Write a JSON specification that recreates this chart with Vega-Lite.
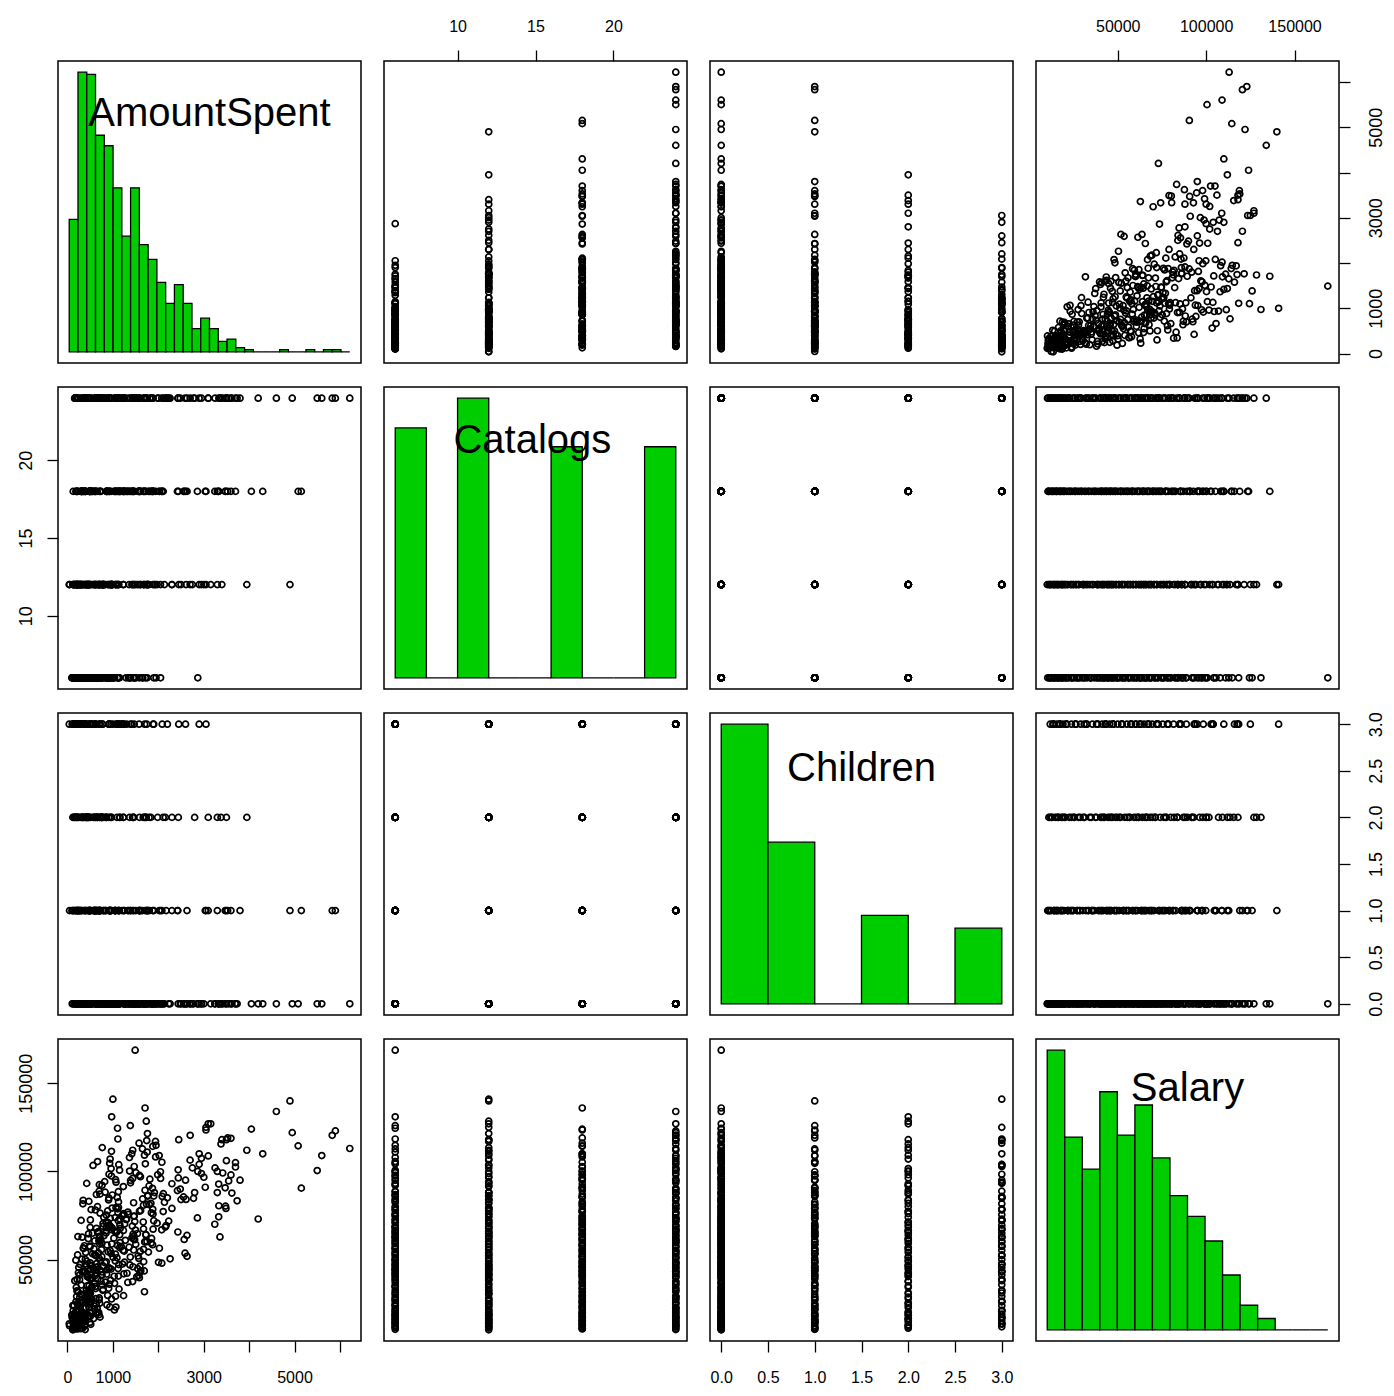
{
"$schema":"https://vega.github.io/schema/vega-lite/v6.json",
"background":"white",
"padding":{"left":16,"top":17,"right":5,"bottom":5},
"columns":4,
"spacing":{"row":24,"column":23},
"bounds":"flush",
"config":{
"view":{"stroke":"black","strokeWidth":1.5},
"point":{"shape":"circle","filled":false,"color":"black","size":36,"strokeWidth":1.7,"opacity":1},
"axis":{"grid":false,"domain":false,"tickSize":11,"tickColor":"black","tickWidth":1.3,"labelColor":"black","labelFont":"Liberation Sans","labelFlush":false,"labelOverlap":false,"labelBound":false}
},
"datasets":{
"dm":[
{"AmountSpent":115,"Catalogs":12,"Children":0,"Salary":10100},
{"AmountSpent":141,"Catalogs":6,"Children":1,"Salary":10400},
{"AmountSpent":295,"Catalogs":24,"Children":0,"Salary":10700},
{"AmountSpent":332,"Catalogs":18,"Children":2,"Salary":11000},
{"AmountSpent":152,"Catalogs":12,"Children":0,"Salary":11300},
{"AmountSpent":120,"Catalogs":6,"Children":1,"Salary":11500},
{"AmountSpent":202,"Catalogs":18,"Children":3,"Salary":11800},
{"AmountSpent":376,"Catalogs":24,"Children":0,"Salary":12100},
{"AmountSpent":45,"Catalogs":12,"Children":1,"Salary":12400},
{"AmountSpent":225,"Catalogs":6,"Children":0,"Salary":12700},
{"AmountSpent":160,"Catalogs":24,"Children":2,"Salary":12900},
{"AmountSpent":513,"Catalogs":18,"Children":0,"Salary":13200},
{"AmountSpent":38,"Catalogs":12,"Children":3,"Salary":13500},
{"AmountSpent":271,"Catalogs":6,"Children":0,"Salary":13800},
{"AmountSpent":225,"Catalogs":18,"Children":1,"Salary":14000},
{"AmountSpent":493,"Catalogs":24,"Children":0,"Salary":14300},
{"AmountSpent":237,"Catalogs":12,"Children":2,"Salary":14600},
{"AmountSpent":170,"Catalogs":6,"Children":0,"Salary":14900},
{"AmountSpent":181,"Catalogs":24,"Children":1,"Salary":15100},
{"AmountSpent":308,"Catalogs":18,"Children":3,"Salary":15400},
{"AmountSpent":179,"Catalogs":12,"Children":0,"Salary":15700},
{"AmountSpent":217,"Catalogs":6,"Children":1,"Salary":16000},
{"AmountSpent":388,"Catalogs":18,"Children":0,"Salary":16200},
{"AmountSpent":575,"Catalogs":24,"Children":2,"Salary":16500},
{"AmountSpent":226,"Catalogs":12,"Children":0,"Salary":16800},
{"AmountSpent":103,"Catalogs":6,"Children":3,"Salary":17100},
{"AmountSpent":716,"Catalogs":24,"Children":0,"Salary":17300},
{"AmountSpent":391,"Catalogs":18,"Children":1,"Salary":17600},
{"AmountSpent":156,"Catalogs":12,"Children":0,"Salary":17900},
{"AmountSpent":210,"Catalogs":6,"Children":2,"Salary":18200},
{"AmountSpent":303,"Catalogs":18,"Children":0,"Salary":18400},
{"AmountSpent":693,"Catalogs":24,"Children":1,"Salary":18700},
{"AmountSpent":150,"Catalogs":12,"Children":3,"Salary":19000},
{"AmountSpent":378,"Catalogs":6,"Children":0,"Salary":19300},
{"AmountSpent":315,"Catalogs":18,"Children":1,"Salary":19600},
{"AmountSpent":687,"Catalogs":24,"Children":0,"Salary":19900},
{"AmountSpent":327,"Catalogs":12,"Children":2,"Salary":20200},
{"AmountSpent":235,"Catalogs":6,"Children":0,"Salary":20600},
{"AmountSpent":126,"Catalogs":18,"Children":3,"Salary":21000},
{"AmountSpent":1033,"Catalogs":24,"Children":0,"Salary":21400},
{"AmountSpent":205,"Catalogs":12,"Children":1,"Salary":21800},
{"AmountSpent":365,"Catalogs":6,"Children":0,"Salary":22200},
{"AmountSpent":407,"Catalogs":24,"Children":2,"Salary":22600},
{"AmountSpent":1066,"Catalogs":18,"Children":0,"Salary":23000},
{"AmountSpent":260,"Catalogs":12,"Children":1,"Salary":23400},
{"AmountSpent":144,"Catalogs":6,"Children":3,"Salary":23800},
{"AmountSpent":868,"Catalogs":18,"Children":0,"Salary":24200},
{"AmountSpent":631,"Catalogs":24,"Children":1,"Salary":24600},
{"AmountSpent":217,"Catalogs":12,"Children":0,"Salary":25000},
{"AmountSpent":293,"Catalogs":6,"Children":2,"Salary":25400},
{"AmountSpent":490,"Catalogs":24,"Children":0,"Salary":25800},
{"AmountSpent":487,"Catalogs":18,"Children":3,"Salary":26200},
{"AmountSpent":440,"Catalogs":12,"Children":0,"Salary":26600},
{"AmountSpent":437,"Catalogs":6,"Children":1,"Salary":27000},
{"AmountSpent":533,"Catalogs":18,"Children":0,"Salary":27400},
{"AmountSpent":626,"Catalogs":24,"Children":2,"Salary":27800},
{"AmountSpent":700,"Catalogs":12,"Children":0,"Salary":28200},
{"AmountSpent":269,"Catalogs":6,"Children":1,"Salary":28600},
{"AmountSpent":201,"Catalogs":24,"Children":3,"Salary":29000},
{"AmountSpent":1235,"Catalogs":18,"Children":0,"Salary":29500},
{"AmountSpent":284,"Catalogs":12,"Children":1,"Salary":30200},
{"AmountSpent":505,"Catalogs":6,"Children":0,"Salary":30700},
{"AmountSpent":487,"Catalogs":18,"Children":2,"Salary":31200},
{"AmountSpent":1695,"Catalogs":24,"Children":0,"Salary":31700},
{"AmountSpent":207,"Catalogs":12,"Children":3,"Salary":32200},
{"AmountSpent":414,"Catalogs":6,"Children":0,"Salary":32700},
{"AmountSpent":1135,"Catalogs":24,"Children":1,"Salary":33200},
{"AmountSpent":907,"Catalogs":18,"Children":0,"Salary":33700},
{"AmountSpent":194,"Catalogs":12,"Children":2,"Salary":34200},
{"AmountSpent":615,"Catalogs":6,"Children":0,"Salary":34700},
{"AmountSpent":478,"Catalogs":18,"Children":1,"Salary":35200},
{"AmountSpent":766,"Catalogs":24,"Children":3,"Salary":35700},
{"AmountSpent":599,"Catalogs":12,"Children":0,"Salary":36200},
{"AmountSpent":594,"Catalogs":6,"Children":1,"Salary":36700},
{"AmountSpent":834,"Catalogs":24,"Children":0,"Salary":37200},
{"AmountSpent":735,"Catalogs":18,"Children":2,"Salary":37700},
{"AmountSpent":949,"Catalogs":12,"Children":0,"Salary":38200},
{"AmountSpent":211,"Catalogs":6,"Children":3,"Salary":38700},
{"AmountSpent":492,"Catalogs":18,"Children":0,"Salary":39200},
{"AmountSpent":1584,"Catalogs":24,"Children":1,"Salary":39700},
{"AmountSpent":455,"Catalogs":12,"Children":0,"Salary":40000},
{"AmountSpent":432,"Catalogs":6,"Children":2,"Salary":40300},
{"AmountSpent":1120,"Catalogs":24,"Children":0,"Salary":40600},
{"AmountSpent":1566,"Catalogs":18,"Children":1,"Salary":40900},
{"AmountSpent":265,"Catalogs":12,"Children":3,"Salary":41200},
{"AmountSpent":526,"Catalogs":6,"Children":0,"Salary":41600},
{"AmountSpent":1242,"Catalogs":18,"Children":1,"Salary":41900},
{"AmountSpent":1310,"Catalogs":24,"Children":0,"Salary":42200},
{"AmountSpent":241,"Catalogs":12,"Children":2,"Salary":42500},
{"AmountSpent":760,"Catalogs":6,"Children":0,"Salary":42900},
{"AmountSpent":392,"Catalogs":24,"Children":3,"Salary":43200},
{"AmountSpent":1691,"Catalogs":18,"Children":0,"Salary":43500},
{"AmountSpent":599,"Catalogs":12,"Children":1,"Salary":43800},
{"AmountSpent":867,"Catalogs":6,"Children":0,"Salary":44200},
{"AmountSpent":564,"Catalogs":18,"Children":2,"Salary":44500},
{"AmountSpent":1546,"Catalogs":24,"Children":0,"Salary":44800},
{"AmountSpent":925,"Catalogs":12,"Children":1,"Salary":45100},
{"AmountSpent":248,"Catalogs":6,"Children":3,"Salary":45500},
{"AmountSpent":664,"Catalogs":24,"Children":0,"Salary":45800},
{"AmountSpent":1594,"Catalogs":18,"Children":1,"Salary":46100},
{"AmountSpent":528,"Catalogs":12,"Children":0,"Salary":46400},
{"AmountSpent":502,"Catalogs":6,"Children":2,"Salary":46800},
{"AmountSpent":1127,"Catalogs":18,"Children":0,"Salary":47100},
{"AmountSpent":1212,"Catalogs":24,"Children":3,"Salary":47400},
{"AmountSpent":642,"Catalogs":12,"Children":0,"Salary":47700},
{"AmountSpent":503,"Catalogs":6,"Children":1,"Salary":48100},
{"AmountSpent":2004,"Catalogs":24,"Children":0,"Salary":48400},
{"AmountSpent":855,"Catalogs":18,"Children":2,"Salary":48700},
{"AmountSpent":426,"Catalogs":12,"Children":0,"Salary":49000},
{"AmountSpent":724,"Catalogs":6,"Children":1,"Salary":49500},
{"AmountSpent":393,"Catalogs":18,"Children":3,"Salary":50000},
{"AmountSpent":2260,"Catalogs":24,"Children":0,"Salary":50400},
{"AmountSpent":695,"Catalogs":12,"Children":1,"Salary":50800},
{"AmountSpent":1004,"Catalogs":6,"Children":0,"Salary":51200},
{"AmountSpent":755,"Catalogs":24,"Children":2,"Salary":51600},
{"AmountSpent":1555,"Catalogs":18,"Children":0,"Salary":52000},
{"AmountSpent":622,"Catalogs":12,"Children":3,"Salary":52400},
{"AmountSpent":601,"Catalogs":6,"Children":0,"Salary":52800},
{"AmountSpent":552,"Catalogs":18,"Children":1,"Salary":53200},
{"AmountSpent":2589,"Catalogs":24,"Children":0,"Salary":53600},
{"AmountSpent":401,"Catalogs":12,"Children":2,"Salary":54000},
{"AmountSpent":895,"Catalogs":6,"Children":0,"Salary":54400},
{"AmountSpent":1250,"Catalogs":24,"Children":1,"Salary":54800},
{"AmountSpent":1224,"Catalogs":18,"Children":3,"Salary":55200},
{"AmountSpent":748,"Catalogs":12,"Children":0,"Salary":55600},
{"AmountSpent":585,"Catalogs":6,"Children":1,"Salary":56000},
{"AmountSpent":2024,"Catalogs":18,"Children":0,"Salary":56400},
{"AmountSpent":1150,"Catalogs":24,"Children":2,"Salary":56800},
{"AmountSpent":497,"Catalogs":12,"Children":0,"Salary":57200},
{"AmountSpent":488,"Catalogs":6,"Children":3,"Salary":57600},
{"AmountSpent":1101,"Catalogs":24,"Children":0,"Salary":58000},
{"AmountSpent":1875,"Catalogs":18,"Children":1,"Salary":58400},
{"AmountSpent":974,"Catalogs":12,"Children":0,"Salary":58800},
{"AmountSpent":757,"Catalogs":6,"Children":2,"Salary":59200},
{"AmountSpent":1158,"Catalogs":18,"Children":0,"Salary":59600},
{"AmountSpent":1710,"Catalogs":24,"Children":1,"Salary":60000},
{"AmountSpent":718,"Catalogs":12,"Children":3,"Salary":60400},
{"AmountSpent":691,"Catalogs":6,"Children":0,"Salary":60700},
{"AmountSpent":731,"Catalogs":24,"Children":1,"Salary":61100},
{"AmountSpent":2570,"Catalogs":18,"Children":0,"Salary":61400},
{"AmountSpent":459,"Catalogs":12,"Children":2,"Salary":61800},
{"AmountSpent":1021,"Catalogs":6,"Children":0,"Salary":62100},
{"AmountSpent":715,"Catalogs":18,"Children":3,"Salary":62500},
{"AmountSpent":3358,"Catalogs":24,"Children":0,"Salary":62800},
{"AmountSpent":703,"Catalogs":12,"Children":1,"Salary":63200},
{"AmountSpent":803,"Catalogs":6,"Children":0,"Salary":63500},
{"AmountSpent":1725,"Catalogs":24,"Children":2,"Salary":63900},
{"AmountSpent":1728,"Catalogs":18,"Children":0,"Salary":64200},
{"AmountSpent":464,"Catalogs":12,"Children":1,"Salary":64600},
{"AmountSpent":550,"Catalogs":6,"Children":3,"Salary":64900},
{"AmountSpent":1074,"Catalogs":18,"Children":0,"Salary":65300},
{"AmountSpent":2431,"Catalogs":24,"Children":1,"Salary":65600},
{"AmountSpent":1093,"Catalogs":12,"Children":0,"Salary":66000},
{"AmountSpent":848,"Catalogs":6,"Children":2,"Salary":66300},
{"AmountSpent":1496,"Catalogs":24,"Children":0,"Salary":66700},
{"AmountSpent":958,"Catalogs":18,"Children":3,"Salary":67000},
{"AmountSpent":1674,"Catalogs":12,"Children":0,"Salary":67400},
{"AmountSpent":637,"Catalogs":6,"Children":1,"Salary":67700},
{"AmountSpent":855,"Catalogs":18,"Children":0,"Salary":68100},
{"AmountSpent":2155,"Catalogs":24,"Children":2,"Salary":68400},
{"AmountSpent":783,"Catalogs":12,"Children":0,"Salary":68800},
{"AmountSpent":939,"Catalogs":6,"Children":1,"Salary":69100},
{"AmountSpent":917,"Catalogs":24,"Children":3,"Salary":69500},
{"AmountSpent":3244,"Catalogs":18,"Children":0,"Salary":70000},
{"AmountSpent":783,"Catalogs":12,"Children":1,"Salary":70400},
{"AmountSpent":897,"Catalogs":6,"Children":0,"Salary":70900},
{"AmountSpent":1668,"Catalogs":18,"Children":2,"Salary":71300},
{"AmountSpent":2229,"Catalogs":24,"Children":0,"Salary":71800},
{"AmountSpent":300,"Catalogs":12,"Children":3,"Salary":72200},
{"AmountSpent":1288,"Catalogs":6,"Children":0,"Salary":72700},
{"AmountSpent":1146,"Catalogs":24,"Children":1,"Salary":73100},
{"AmountSpent":2861,"Catalogs":18,"Children":0,"Salary":73600},
{"AmountSpent":799,"Catalogs":12,"Children":2,"Salary":74000},
{"AmountSpent":1461,"Catalogs":6,"Children":0,"Salary":74500},
{"AmountSpent":1203,"Catalogs":18,"Children":1,"Salary":74900},
{"AmountSpent":1244,"Catalogs":24,"Children":3,"Salary":75400},
{"AmountSpent":1883,"Catalogs":12,"Children":0,"Salary":75800},
{"AmountSpent":718,"Catalogs":6,"Children":1,"Salary":76300},
{"AmountSpent":1111,"Catalogs":24,"Children":0,"Salary":76700},
{"AmountSpent":2108,"Catalogs":18,"Children":2,"Salary":77200},
{"AmountSpent":884,"Catalogs":12,"Children":0,"Salary":77600},
{"AmountSpent":614,"Catalogs":6,"Children":3,"Salary":78100},
{"AmountSpent":1878,"Catalogs":18,"Children":0,"Salary":78500},
{"AmountSpent":3490,"Catalogs":24,"Children":1,"Salary":79000},
{"AmountSpent":1068,"Catalogs":12,"Children":0,"Salary":79400},
{"AmountSpent":660,"Catalogs":6,"Children":2,"Salary":80000},
{"AmountSpent":3333,"Catalogs":24,"Children":0,"Salary":80500},
{"AmountSpent":1803,"Catalogs":18,"Children":1,"Salary":81100},
{"AmountSpent":339,"Catalogs":12,"Children":3,"Salary":81600},
{"AmountSpent":1456,"Catalogs":6,"Children":0,"Salary":82200},
{"AmountSpent":1123,"Catalogs":18,"Children":1,"Salary":82700},
{"AmountSpent":3736,"Catalogs":24,"Children":0,"Salary":83300},
{"AmountSpent":905,"Catalogs":12,"Children":2,"Salary":83800},
{"AmountSpent":1655,"Catalogs":6,"Children":0,"Salary":84400},
{"AmountSpent":911,"Catalogs":24,"Children":3,"Salary":84900},
{"AmountSpent":2556,"Catalogs":18,"Children":0,"Salary":85500},
{"AmountSpent":1765,"Catalogs":12,"Children":1,"Salary":86000},
{"AmountSpent":986,"Catalogs":6,"Children":0,"Salary":86600},
{"AmountSpent":713,"Catalogs":18,"Children":2,"Salary":87100},
{"AmountSpent":3620,"Catalogs":24,"Children":0,"Salary":87700},
{"AmountSpent":829,"Catalogs":12,"Children":1,"Salary":88200},
{"AmountSpent":698,"Catalogs":6,"Children":3,"Salary":88800},
{"AmountSpent":2484,"Catalogs":24,"Children":0,"Salary":90000},
{"AmountSpent":3472,"Catalogs":18,"Children":1,"Salary":90700},
{"AmountSpent":1230,"Catalogs":12,"Children":0,"Salary":91400},
{"AmountSpent":760,"Catalogs":6,"Children":2,"Salary":92100},
{"AmountSpent":3330,"Catalogs":18,"Children":0,"Salary":92800},
{"AmountSpent":1388,"Catalogs":24,"Children":3,"Salary":93500},
{"AmountSpent":819,"Catalogs":12,"Children":0,"Salary":94200},
{"AmountSpent":1389,"Catalogs":6,"Children":1,"Salary":94900},
{"AmountSpent":1814,"Catalogs":24,"Children":0,"Salary":95600},
{"AmountSpent":2441,"Catalogs":18,"Children":2,"Salary":96300},
{"AmountSpent":1606,"Catalogs":12,"Children":0,"Salary":97000},
{"AmountSpent":1583,"Catalogs":6,"Children":1,"Salary":97700},
{"AmountSpent":915,"Catalogs":18,"Children":3,"Salary":98400},
{"AmountSpent":3419,"Catalogs":24,"Children":0,"Salary":99100},
{"AmountSpent":2048,"Catalogs":12,"Children":1,"Salary":99800},
{"AmountSpent":1147,"Catalogs":6,"Children":0,"Salary":100700},
{"AmountSpent":960,"Catalogs":24,"Children":2,"Salary":101600},
{"AmountSpent":3700,"Catalogs":18,"Children":0,"Salary":102500},
{"AmountSpent":563,"Catalogs":12,"Children":3,"Salary":103400},
{"AmountSpent":1715,"Catalogs":6,"Children":0,"Salary":104300},
{"AmountSpent":2079,"Catalogs":18,"Children":1,"Salary":105200},
{"AmountSpent":3500,"Catalogs":24,"Children":0,"Salary":106100},
{"AmountSpent":939,"Catalogs":12,"Children":2,"Salary":107000},
{"AmountSpent":1365,"Catalogs":6,"Children":0,"Salary":107900},
{"AmountSpent":3100,"Catalogs":24,"Children":1,"Salary":108800},
{"AmountSpent":1416,"Catalogs":18,"Children":3,"Salary":110000},
{"AmountSpent":969,"Catalogs":12,"Children":0,"Salary":111400},
{"AmountSpent":1650,"Catalogs":6,"Children":1,"Salary":112800},
{"AmountSpent":1878,"Catalogs":18,"Children":0,"Salary":114200},
{"AmountSpent":3381,"Catalogs":24,"Children":2,"Salary":115600},
{"AmountSpent":1938,"Catalogs":12,"Children":0,"Salary":117000},
{"AmountSpent":1110,"Catalogs":6,"Children":3,"Salary":118400},
{"AmountSpent":2702,"Catalogs":24,"Children":0,"Salary":120500},
{"AmountSpent":3050,"Catalogs":18,"Children":1,"Salary":123500},
{"AmountSpent":3155,"Catalogs":12,"Children":0,"Salary":127000},
{"AmountSpent":973,"Catalogs":6,"Children":2,"Salary":131000},
{"AmountSpent":1708,"Catalogs":18,"Children":0,"Salary":136000},
{"AmountSpent":6217,"Catalogs":24,"Children":0,"Salary":113000},
{"AmountSpent":5900,"Catalogs":24,"Children":1,"Salary":123000},
{"AmountSpent":5830,"Catalogs":24,"Children":1,"Salary":120500},
{"AmountSpent":5600,"Catalogs":24,"Children":0,"Salary":109000},
{"AmountSpent":5500,"Catalogs":24,"Children":0,"Salary":100500},
{"AmountSpent":5150,"Catalogs":18,"Children":1,"Salary":90500},
{"AmountSpent":5080,"Catalogs":18,"Children":0,"Salary":114500},
{"AmountSpent":4900,"Catalogs":12,"Children":1,"Salary":140000},
{"AmountSpent":4950,"Catalogs":24,"Children":0,"Salary":122000},
{"AmountSpent":4600,"Catalogs":24,"Children":0,"Salary":134000},
{"AmountSpent":4300,"Catalogs":18,"Children":0,"Salary":110000},
{"AmountSpent":4200,"Catalogs":24,"Children":0,"Salary":73000},
{"AmountSpent":4050,"Catalogs":18,"Children":0,"Salary":124000},
{"AmountSpent":3950,"Catalogs":12,"Children":2,"Salary":112000},
{"AmountSpent":3800,"Catalogs":24,"Children":1,"Salary":95000},
{"AmountSpent":2870,"Catalogs":6,"Children":0,"Salary":100000},
{"AmountSpent":1490,"Catalogs":6,"Children":0,"Salary":168800},
{"AmountSpent":3050,"Catalogs":12,"Children":3,"Salary":125000},
{"AmountSpent":1000,"Catalogs":12,"Children":3,"Salary":141000},
{"AmountSpent":3700,"Catalogs":24,"Children":0,"Salary":105000},
{"AmountSpent":3600,"Catalogs":18,"Children":1,"Salary":98000},
{"AmountSpent":3400,"Catalogs":12,"Children":0,"Salary":118000},
{"AmountSpent":3300,"Catalogs":12,"Children":1,"Salary":88000},
{"AmountSpent":2200,"Catalogs":24,"Children":3,"Salary":85000},
{"AmountSpent":2600,"Catalogs":18,"Children":3,"Salary":95000},
{"AmountSpent":2900,"Catalogs":24,"Children":3,"Salary":104000},
{"AmountSpent":1900,"Catalogs":18,"Children":3,"Salary":72000},
{"AmountSpent":2450,"Catalogs":12,"Children":3,"Salary":118000},
{"AmountSpent":1700,"Catalogs":24,"Children":3,"Salary":60000},
{"AmountSpent":2800,"Catalogs":24,"Children":2,"Salary":88000},
{"AmountSpent":3300,"Catalogs":18,"Children":2,"Salary":100000},
{"AmountSpent":3500,"Catalogs":24,"Children":2,"Salary":118000},
{"AmountSpent":2300,"Catalogs":12,"Children":2,"Salary":93000},
{"AmountSpent":3100,"Catalogs":24,"Children":2,"Salary":127000},
{"AmountSpent":2050,"Catalogs":6,"Children":0,"Salary":96000},
{"AmountSpent":1900,"Catalogs":6,"Children":1,"Salary":86000},
{"AmountSpent":2500,"Catalogs":12,"Children":0,"Salary":84000},
{"AmountSpent":2750,"Catalogs":12,"Children":0,"Salary":102000},
{"AmountSpent":2300,"Catalogs":12,"Children":1,"Salary":79000},
{"AmountSpent":2900,"Catalogs":12,"Children":0,"Salary":110000},
{"AmountSpent":389,"Catalogs":24,"Children":0,"Salary":10250},
{"AmountSpent":195,"Catalogs":18,"Children":0,"Salary":10850},
{"AmountSpent":173,"Catalogs":6,"Children":1,"Salary":11400},
{"AmountSpent":186,"Catalogs":12,"Children":0,"Salary":12000},
{"AmountSpent":306,"Catalogs":18,"Children":2,"Salary":12550},
{"AmountSpent":225,"Catalogs":24,"Children":0,"Salary":13050},
{"AmountSpent":128,"Catalogs":12,"Children":3,"Salary":13650},
{"AmountSpent":251,"Catalogs":6,"Children":1,"Salary":14150},
{"AmountSpent":356,"Catalogs":24,"Children":0,"Salary":14750},
{"AmountSpent":397,"Catalogs":18,"Children":1,"Salary":15300},
{"AmountSpent":221,"Catalogs":6,"Children":0,"Salary":15850},
{"AmountSpent":132,"Catalogs":12,"Children":2,"Salary":16350},
{"AmountSpent":351,"Catalogs":18,"Children":3,"Salary":16950},
{"AmountSpent":451,"Catalogs":24,"Children":0,"Salary":17450},
{"AmountSpent":468,"Catalogs":12,"Children":0,"Salary":18100},
{"AmountSpent":97,"Catalogs":6,"Children":1,"Salary":18600},
{"AmountSpent":628,"Catalogs":24,"Children":0,"Salary":19150},
{"AmountSpent":655,"Catalogs":18,"Children":2,"Salary":19750},
{"AmountSpent":181,"Catalogs":6,"Children":0,"Salary":20400},
{"AmountSpent":220,"Catalogs":12,"Children":3,"Salary":21200},
{"AmountSpent":598,"Catalogs":18,"Children":1,"Salary":22000},
{"AmountSpent":472,"Catalogs":24,"Children":0,"Salary":22800},
{"AmountSpent":585,"Catalogs":12,"Children":1,"Salary":23600},
{"AmountSpent":232,"Catalogs":6,"Children":0,"Salary":24400},
{"AmountSpent":709,"Catalogs":24,"Children":2,"Salary":25200},
{"AmountSpent":186,"Catalogs":18,"Children":3,"Salary":26000},
{"AmountSpent":322,"Catalogs":6,"Children":0,"Salary":26800},
{"AmountSpent":971,"Catalogs":12,"Children":0,"Salary":27600},
{"AmountSpent":491,"Catalogs":18,"Children":1,"Salary":28400},
{"AmountSpent":1058,"Catalogs":24,"Children":0,"Salary":29200},
{"AmountSpent":453,"Catalogs":12,"Children":2,"Salary":30500},
{"AmountSpent":239,"Catalogs":6,"Children":0,"Salary":31500},
{"AmountSpent":777,"Catalogs":24,"Children":3,"Salary":32500},
{"AmountSpent":621,"Catalogs":18,"Children":1,"Salary":33500},
{"AmountSpent":545,"Catalogs":6,"Children":0,"Salary":34500},
{"AmountSpent":304,"Catalogs":12,"Children":1,"Salary":35500},
{"AmountSpent":1037,"Catalogs":18,"Children":0,"Salary":36500},
{"AmountSpent":1434,"Catalogs":24,"Children":2,"Salary":37500},
{"AmountSpent":267,"Catalogs":12,"Children":3,"Salary":38500},
{"AmountSpent":525,"Catalogs":6,"Children":0,"Salary":39500},
{"AmountSpent":1526,"Catalogs":24,"Children":0,"Salary":40200},
{"AmountSpent":605,"Catalogs":18,"Children":1,"Salary":40800},
{"AmountSpent":760,"Catalogs":6,"Children":0,"Salary":41400},
{"AmountSpent":425,"Catalogs":12,"Children":2,"Salary":42000},
{"AmountSpent":1596,"Catalogs":18,"Children":0,"Salary":42700},
{"AmountSpent":357,"Catalogs":24,"Children":3,"Salary":43300},
{"AmountSpent":715,"Catalogs":12,"Children":1,"Salary":44000},
{"AmountSpent":959,"Catalogs":6,"Children":0,"Salary":44600},
{"AmountSpent":904,"Catalogs":24,"Children":1,"Salary":45300},
{"AmountSpent":1441,"Catalogs":18,"Children":0,"Salary":45900},
{"AmountSpent":423,"Catalogs":6,"Children":2,"Salary":46600},
{"AmountSpent":280,"Catalogs":12,"Children":3,"Salary":47200},
{"AmountSpent":2077,"Catalogs":18,"Children":0,"Salary":47900},
{"AmountSpent":1255,"Catalogs":24,"Children":0,"Salary":48500},
{"AmountSpent":1052,"Catalogs":12,"Children":1,"Salary":49200},
{"AmountSpent":318,"Catalogs":6,"Children":0,"Salary":50200},
{"AmountSpent":1090,"Catalogs":24,"Children":2,"Salary":51000},
{"AmountSpent":2633,"Catalogs":18,"Children":0,"Salary":51800},
{"AmountSpent":223,"Catalogs":6,"Children":3,"Salary":52600},
{"AmountSpent":959,"Catalogs":12,"Children":1,"Salary":53400},
{"AmountSpent":1783,"Catalogs":18,"Children":0,"Salary":54200},
{"AmountSpent":941,"Catalogs":24,"Children":1,"Salary":55000},
{"AmountSpent":1675,"Catalogs":12,"Children":0,"Salary":55800},
{"AmountSpent":350,"Catalogs":6,"Children":2,"Salary":56600},
{"AmountSpent":1184,"Catalogs":24,"Children":3,"Salary":57400},
{"AmountSpent":870,"Catalogs":18,"Children":0,"Salary":58200},
{"AmountSpent":709,"Catalogs":6,"Children":0,"Salary":59000},
{"AmountSpent":1750,"Catalogs":12,"Children":1,"Salary":60200},
{"AmountSpent":1275,"Catalogs":18,"Children":0,"Salary":60900},
{"AmountSpent":1455,"Catalogs":24,"Children":2,"Salary":61600},
{"AmountSpent":1419,"Catalogs":12,"Children":0,"Salary":62300},
{"AmountSpent":229,"Catalogs":6,"Children":3,"Salary":63000},
{"AmountSpent":2632,"Catalogs":24,"Children":1,"Salary":63700},
{"AmountSpent":1444,"Catalogs":18,"Children":0,"Salary":64400},
{"AmountSpent":850,"Catalogs":6,"Children":1,"Salary":65100},
{"AmountSpent":681,"Catalogs":12,"Children":0,"Salary":65800},
{"AmountSpent":1232,"Catalogs":18,"Children":2,"Salary":66500},
{"AmountSpent":1885,"Catalogs":24,"Children":3,"Salary":67200},
{"AmountSpent":984,"Catalogs":12,"Children":0,"Salary":67900},
{"AmountSpent":911,"Catalogs":6,"Children":0,"Salary":68600},
{"AmountSpent":2173,"Catalogs":24,"Children":1,"Salary":69300},
{"AmountSpent":1259,"Catalogs":18,"Children":0,"Salary":70200},
{"AmountSpent":851,"Catalogs":6,"Children":2,"Salary":71100},
{"AmountSpent":1118,"Catalogs":12,"Children":0,"Salary":72000},
{"AmountSpent":1303,"Catalogs":18,"Children":3,"Salary":72900},
{"AmountSpent":1052,"Catalogs":24,"Children":1,"Salary":73800},
{"AmountSpent":1469,"Catalogs":12,"Children":0,"Salary":74700},
{"AmountSpent":1343,"Catalogs":6,"Children":1,"Salary":75600},
{"AmountSpent":1847,"Catalogs":24,"Children":0,"Salary":76500},
{"AmountSpent":1585,"Catalogs":18,"Children":2,"Salary":77400},
{"AmountSpent":521,"Catalogs":6,"Children":3,"Salary":78300},
{"AmountSpent":984,"Catalogs":12,"Children":0,"Salary":79200},
{"AmountSpent":3481,"Catalogs":18,"Children":0,"Salary":80300},
{"AmountSpent":1740,"Catalogs":24,"Children":1,"Salary":81400},
{"AmountSpent":2135,"Catalogs":12,"Children":0,"Salary":82500},
{"AmountSpent":345,"Catalogs":6,"Children":2,"Salary":83600},
{"AmountSpent":2776,"Catalogs":24,"Children":0,"Salary":84700},
{"AmountSpent":2086,"Catalogs":18,"Children":3,"Salary":85800},
{"AmountSpent":636,"Catalogs":6,"Children":1,"Salary":86900},
{"AmountSpent":1913,"Catalogs":12,"Children":0,"Salary":88000},
{"AmountSpent":2421,"Catalogs":18,"Children":1,"Salary":89100},
{"AmountSpent":1871,"Catalogs":24,"Children":0,"Salary":90400},
{"AmountSpent":1797,"Catalogs":12,"Children":2,"Salary":91800},
{"AmountSpent":423,"Catalogs":6,"Children":3,"Salary":93200},
{"AmountSpent":3550,"Catalogs":24,"Children":0,"Salary":94600},
{"AmountSpent":1435,"Catalogs":18,"Children":0,"Salary":96000},
{"AmountSpent":967,"Catalogs":6,"Children":1,"Salary":97400},
{"AmountSpent":2950,"Catalogs":12,"Children":0,"Salary":98800},
{"AmountSpent":1368,"Catalogs":18,"Children":2,"Salary":100200},
{"AmountSpent":3250,"Catalogs":24,"Children":0,"Salary":102000},
{"AmountSpent":1130,"Catalogs":12,"Children":3,"Salary":103800},
{"AmountSpent":662,"Catalogs":6,"Children":1,"Salary":105600},
{"AmountSpent":2950,"Catalogs":24,"Children":0,"Salary":107400},
{"AmountSpent":2019,"Catalogs":18,"Children":1,"Salary":109000},
{"AmountSpent":1755,"Catalogs":6,"Children":0,"Salary":111000},
{"AmountSpent":766,"Catalogs":12,"Children":2,"Salary":113500},
{"AmountSpent":1576,"Catalogs":18,"Children":3,"Salary":116000},
{"AmountSpent":3600,"Catalogs":24,"Children":0,"Salary":118800},
{"AmountSpent":1761,"Catalogs":12,"Children":0,"Salary":121500},
{"AmountSpent":1383,"Catalogs":6,"Children":1,"Salary":126000},
{"AmountSpent":222,"Catalogs":18,"Children":1,"Salary":10550},
{"AmountSpent":312,"Catalogs":12,"Children":0,"Salary":11150},
{"AmountSpent":157,"Catalogs":24,"Children":2,"Salary":11650},
{"AmountSpent":178,"Catalogs":6,"Children":0,"Salary":12250},
{"AmountSpent":199,"Catalogs":24,"Children":0,"Salary":12800},
{"AmountSpent":286,"Catalogs":18,"Children":3,"Salary":13350},
{"AmountSpent":131,"Catalogs":6,"Children":1,"Salary":13900},
{"AmountSpent":359,"Catalogs":12,"Children":0,"Salary":14450},
{"AmountSpent":314,"Catalogs":18,"Children":0,"Salary":15000},
{"AmountSpent":210,"Catalogs":12,"Children":2,"Salary":15550},
{"AmountSpent":390,"Catalogs":24,"Children":1,"Salary":16100},
{"AmountSpent":284,"Catalogs":6,"Children":0,"Salary":16650},
{"AmountSpent":170,"Catalogs":24,"Children":3,"Salary":17200},
{"AmountSpent":504,"Catalogs":18,"Children":1,"Salary":17750},
{"AmountSpent":104,"Catalogs":6,"Children":0,"Salary":18300},
{"AmountSpent":382,"Catalogs":12,"Children":2,"Salary":18850},
{"AmountSpent":522,"Catalogs":18,"Children":0,"Salary":19400},
{"AmountSpent":496,"Catalogs":12,"Children":0,"Salary":19950},
{"AmountSpent":239,"Catalogs":24,"Children":3,"Salary":20700},
{"AmountSpent":225,"Catalogs":6,"Children":1,"Salary":21500},
{"AmountSpent":654,"Catalogs":24,"Children":0,"Salary":22300},
{"AmountSpent":932,"Catalogs":18,"Children":0,"Salary":23100},
{"AmountSpent":118,"Catalogs":6,"Children":2,"Salary":23900},
{"AmountSpent":486,"Catalogs":12,"Children":1,"Salary":24700},
{"AmountSpent":343,"Catalogs":18,"Children":0,"Salary":25500},
{"AmountSpent":390,"Catalogs":12,"Children":3,"Salary":26300},
{"AmountSpent":695,"Catalogs":24,"Children":1,"Salary":27100},
{"AmountSpent":424,"Catalogs":6,"Children":0,"Salary":27900},
{"AmountSpent":452,"Catalogs":24,"Children":2,"Salary":28700},
{"AmountSpent":885,"Catalogs":18,"Children":0,"Salary":29600},
{"AmountSpent":323,"Catalogs":6,"Children":0,"Salary":30000},
{"AmountSpent":414,"Catalogs":12,"Children":3,"Salary":31000},
{"AmountSpent":474,"Catalogs":18,"Children":1,"Salary":32000},
{"AmountSpent":786,"Catalogs":12,"Children":0,"Salary":33000},
{"AmountSpent":528,"Catalogs":24,"Children":0,"Salary":34000},
{"AmountSpent":433,"Catalogs":6,"Children":2,"Salary":35000},
{"AmountSpent":923,"Catalogs":24,"Children":1,"Salary":36000},
{"AmountSpent":1328,"Catalogs":18,"Children":0,"Salary":37000},
{"AmountSpent":161,"Catalogs":6,"Children":3,"Salary":38000},
{"AmountSpent":667,"Catalogs":12,"Children":1,"Salary":39000},
{"AmountSpent":1029,"Catalogs":18,"Children":0,"Salary":40500},
{"AmountSpent":749,"Catalogs":12,"Children":2,"Salary":41100},
{"AmountSpent":863,"Catalogs":24,"Children":0,"Salary":41700},
{"AmountSpent":615,"Catalogs":6,"Children":0,"Salary":42300},
{"AmountSpent":319,"Catalogs":24,"Children":3,"Salary":43000},
{"AmountSpent":1615,"Catalogs":18,"Children":1,"Salary":43600},
{"AmountSpent":504,"Catalogs":6,"Children":0,"Salary":44300},
{"AmountSpent":1115,"Catalogs":12,"Children":0,"Salary":44900},
{"AmountSpent":622,"Catalogs":18,"Children":2,"Salary":45600},
{"AmountSpent":790,"Catalogs":12,"Children":1,"Salary":46200},
{"AmountSpent":1375,"Catalogs":24,"Children":0,"Salary":46900},
{"AmountSpent":388,"Catalogs":6,"Children":3,"Salary":47500},
{"AmountSpent":824,"Catalogs":24,"Children":1,"Salary":48200},
{"AmountSpent":1678,"Catalogs":18,"Children":0,"Salary":48800},
{"AmountSpent":184,"Catalogs":6,"Children":2,"Salary":49600},
{"AmountSpent":1571,"Catalogs":12,"Children":0,"Salary":50600},
{"AmountSpent":1383,"Catalogs":18,"Children":0,"Salary":51400},
{"AmountSpent":620,"Catalogs":12,"Children":3,"Salary":52200},
{"AmountSpent":1057,"Catalogs":24,"Children":1,"Salary":53000},
{"AmountSpent":681,"Catalogs":6,"Children":0,"Salary":53800},
{"AmountSpent":1601,"Catalogs":24,"Children":0,"Salary":54600},
{"AmountSpent":1458,"Catalogs":18,"Children":2,"Salary":55400},
{"AmountSpent":352,"Catalogs":6,"Children":1,"Salary":56200},
{"AmountSpent":1357,"Catalogs":12,"Children":0,"Salary":57000},
{"AmountSpent":372,"Catalogs":18,"Children":3,"Salary":57800},
{"AmountSpent":1503,"Catalogs":12,"Children":1,"Salary":58600},
{"AmountSpent":1844,"Catalogs":24,"Children":0,"Salary":59400},
{"AmountSpent":600,"Catalogs":6,"Children":2,"Salary":60550},
{"AmountSpent":1479,"Catalogs":24,"Children":0,"Salary":61250},
{"AmountSpent":1852,"Catalogs":18,"Children":0,"Salary":61950},
{"AmountSpent":322,"Catalogs":6,"Children":3,"Salary":62650},
{"AmountSpent":1462,"Catalogs":12,"Children":1,"Salary":63350},
{"AmountSpent":1149,"Catalogs":18,"Children":0,"Salary":64050},
{"AmountSpent":1541,"Catalogs":12,"Children":0,"Salary":64750},
{"AmountSpent":663,"Catalogs":24,"Children":2,"Salary":65450},
{"AmountSpent":1037,"Catalogs":6,"Children":1,"Salary":66150},
{"AmountSpent":2075,"Catalogs":24,"Children":0,"Salary":66850},
{"AmountSpent":1159,"Catalogs":18,"Children":3,"Salary":67550},
{"AmountSpent":499,"Catalogs":6,"Children":1,"Salary":68250},
{"AmountSpent":1427,"Catalogs":12,"Children":0,"Salary":68950},
{"AmountSpent":1154,"Catalogs":18,"Children":2,"Salary":69650},
{"AmountSpent":1974,"Catalogs":12,"Children":0,"Salary":70650},
{"AmountSpent":1481,"Catalogs":24,"Children":0,"Salary":71550},
{"AmountSpent":504,"Catalogs":6,"Children":3,"Salary":72450},
{"AmountSpent":941,"Catalogs":24,"Children":1,"Salary":73350},
{"AmountSpent":3330,"Catalogs":18,"Children":0,"Salary":74250},
{"AmountSpent":856,"Catalogs":6,"Children":0,"Salary":75150},
{"AmountSpent":1232,"Catalogs":12,"Children":2,"Salary":76050},
{"AmountSpent":1330,"Catalogs":18,"Children":1,"Salary":76950},
{"AmountSpent":1611,"Catalogs":12,"Children":0,"Salary":77850},
{"AmountSpent":1104,"Catalogs":24,"Children":3,"Salary":78750},
{"AmountSpent":1123,"Catalogs":6,"Children":1,"Salary":79600},
{"AmountSpent":1673,"Catalogs":24,"Children":0,"Salary":80800},
{"AmountSpent":1837,"Catalogs":18,"Children":2,"Salary":81900},
{"AmountSpent":472,"Catalogs":6,"Children":0,"Salary":83000},
{"AmountSpent":2611,"Catalogs":12,"Children":0,"Salary":84100},
{"AmountSpent":1096,"Catalogs":18,"Children":3,"Salary":85200},
{"AmountSpent":1771,"Catalogs":12,"Children":1,"Salary":86300},
{"AmountSpent":2111,"Catalogs":24,"Children":0,"Salary":87400},
{"AmountSpent":1120,"Catalogs":6,"Children":0,"Salary":88500},
{"AmountSpent":1708,"Catalogs":24,"Children":2,"Salary":89300},
{"AmountSpent":3034,"Catalogs":18,"Children":1,"Salary":91000},
{"AmountSpent":702,"Catalogs":6,"Children":0,"Salary":92500},
{"AmountSpent":1069,"Catalogs":12,"Children":3,"Salary":93900},
{"AmountSpent":1059,"Catalogs":18,"Children":1,"Salary":95300},
{"AmountSpent":3003,"Catalogs":12,"Children":0,"Salary":96700},
{"AmountSpent":1986,"Catalogs":24,"Children":2,"Salary":98100},
{"AmountSpent":1507,"Catalogs":6,"Children":0,"Salary":99300},
{"AmountSpent":2437,"Catalogs":24,"Children":0,"Salary":100900},
{"AmountSpent":1470,"Catalogs":18,"Children":3,"Salary":102800},
{"AmountSpent":929,"Catalogs":6,"Children":1,"Salary":104600},
{"AmountSpent":2700,"Catalogs":12,"Children":0,"Salary":106400},
{"AmountSpent":1941,"Catalogs":18,"Children":0,"Salary":108200},
{"AmountSpent":1695,"Catalogs":12,"Children":2,"Salary":109200},
{"AmountSpent":1436,"Catalogs":24,"Children":1,"Salary":112000},
{"AmountSpent":1950,"Catalogs":6,"Children":0,"Salary":114800},
{"AmountSpent":1745,"Catalogs":24,"Children":3,"Salary":117500},
{"AmountSpent":3527,"Catalogs":18,"Children":1,"Salary":119000},
{"AmountSpent":1102,"Catalogs":6,"Children":0,"Salary":124500},
{"AmountSpent":1735,"Catalogs":12,"Children":2,"Salary":128500}
],
"histAmount":[
{"binStart":38,"binEnd":231.1,"count":63},
{"binStart":231.1,"binEnd":424.2,"count":133},
{"binStart":424.2,"binEnd":617.3,"count":132},
{"binStart":617.3,"binEnd":810.4,"count":103},
{"binStart":810.4,"binEnd":1003.5,"count":98},
{"binStart":1003.5,"binEnd":1196.6,"count":78},
{"binStart":1196.6,"binEnd":1389.7,"count":55},
{"binStart":1389.7,"binEnd":1582.8,"count":78},
{"binStart":1582.8,"binEnd":1775.8,"count":51},
{"binStart":1775.8,"binEnd":1968.9,"count":44},
{"binStart":1968.9,"binEnd":2162.0,"count":33},
{"binStart":2162.0,"binEnd":2355.1,"count":23},
{"binStart":2355.1,"binEnd":2548.2,"count":32},
{"binStart":2548.2,"binEnd":2741.3,"count":23},
{"binStart":2741.3,"binEnd":2934.4,"count":11},
{"binStart":2934.4,"binEnd":3127.5,"count":16},
{"binStart":3127.5,"binEnd":3320.6,"count":11},
{"binStart":3320.6,"binEnd":3513.7,"count":5},
{"binStart":3513.7,"binEnd":3706.8,"count":6},
{"binStart":3706.8,"binEnd":3899.9,"count":2},
{"binStart":3899.9,"binEnd":4093.0,"count":1},
{"binStart":4093.0,"binEnd":4286.1,"count":0},
{"binStart":4286.1,"binEnd":4479.2,"count":0},
{"binStart":4479.2,"binEnd":4672.3,"count":0},
{"binStart":4672.3,"binEnd":4865.3,"count":1},
{"binStart":4865.3,"binEnd":5058.4,"count":0},
{"binStart":5058.4,"binEnd":5251.5,"count":0},
{"binStart":5251.5,"binEnd":5444.6,"count":1},
{"binStart":5444.6,"binEnd":5637.7,"count":0},
{"binStart":5637.7,"binEnd":5830.8,"count":1},
{"binStart":5830.8,"binEnd":6023.9,"count":1},
{"binStart":6023.9,"binEnd":6217,"count":0}
],
"histCatalogs":[
{"binStart":6,"binEnd":8,"count":252},
{"binStart":8,"binEnd":10,"count":0},
{"binStart":10,"binEnd":12,"count":282},
{"binStart":12,"binEnd":14,"count":0},
{"binStart":14,"binEnd":16,"count":0},
{"binStart":16,"binEnd":18,"count":233},
{"binStart":18,"binEnd":20,"count":0},
{"binStart":20,"binEnd":22,"count":0},
{"binStart":22,"binEnd":24,"count":233}
],
"histChildren":[
{"binStart":0,"binEnd":0.5,"count":462},
{"binStart":0.5,"binEnd":1,"count":267},
{"binStart":1,"binEnd":1.5,"count":0},
{"binStart":1.5,"binEnd":2,"count":146},
{"binStart":2,"binEnd":2.5,"count":0},
{"binStart":2.5,"binEnd":3,"count":125}
],
"histSalary":[
{"binStart":10100,"binEnd":20018.75,"count":148},
{"binStart":20018.75,"binEnd":29937.5,"count":102},
{"binStart":29937.5,"binEnd":39856.25,"count":85},
{"binStart":39856.25,"binEnd":49775,"count":126},
{"binStart":49775,"binEnd":59693.75,"count":103},
{"binStart":59693.75,"binEnd":69612.5,"count":119},
{"binStart":69612.5,"binEnd":79531.25,"count":91},
{"binStart":79531.25,"binEnd":89450,"count":71},
{"binStart":89450,"binEnd":99368.75,"count":60},
{"binStart":99368.75,"binEnd":109287.5,"count":47},
{"binStart":109287.5,"binEnd":119206.25,"count":29},
{"binStart":119206.25,"binEnd":129125,"count":13},
{"binStart":129125,"binEnd":139043.75,"count":6},
{"binStart":139043.75,"binEnd":148962.5,"count":0},
{"binStart":148962.5,"binEnd":158881.25,"count":0},
{"binStart":158881.25,"binEnd":168800,"count":0}
]
},
"concat":[
{"width":303,"height":302,"layer":[
{"data":{"name":"histAmount"},"mark":{"type":"rect","fill":"#00CD00","stroke":"black","strokeWidth":1.3},
"encoding":{"x":{"field":"binStart","type":"quantitative","scale":{"domain":[-209.16,6464.16],"nice":false,"zero":false},"axis":null},"x2":{"field":"binEnd"},
"y":{"field":"count","type":"quantitative","scale":{"domain":[-5.32,138.32],"nice":false,"zero":false},"axis":null},"y2":{"datum":0}}},
{"data":{"values":[{"label":"AmountSpent"}]},"mark":{"type":"text","font":"Liberation Sans","fontSize":40,"align":"center","baseline":"alphabetic","color":"black"},
"encoding":{"text":{"field":"label"},"x":{"datum":3127.5,"type":"quantitative"},"y":{"datum":107.5,"type":"quantitative"}}}
]},
{"width":303,"height":302,"data":{"name":"dm"},"mark":"point","encoding":{
"x":{"field":"Catalogs","type":"quantitative","scale":{"domain":[5.28,24.72],"nice":false,"zero":false},"axis":{"orient":"top","values":[10,15,20],"format":"d","title":null,"labelAngle":0,"labelFontSize":16,"labelPadding":16}},
"y":{"field":"AmountSpent","type":"quantitative","scale":{"domain":[-209.16,6464.16],"nice":false,"zero":false},"axis":null}}},
{"width":303,"height":302,"data":{"name":"dm"},"mark":"point","encoding":{
"x":{"field":"Children","type":"quantitative","scale":{"domain":[-0.12,3.12],"nice":false,"zero":false},"axis":null},
"y":{"field":"AmountSpent","type":"quantitative","scale":{"domain":[-209.16,6464.16],"nice":false,"zero":false},"axis":null}}},
{"width":303,"height":302,"data":{"name":"dm"},"mark":"point","encoding":{
"x":{"field":"Salary","type":"quantitative","scale":{"domain":[3752,175148],"nice":false,"zero":false},"axis":{"orient":"top","values":[50000,100000,150000],"format":"d","title":null,"labelAngle":0,"labelFontSize":16,"labelPadding":16}},
"y":{"field":"AmountSpent","type":"quantitative","scale":{"domain":[-209.16,6464.16],"nice":false,"zero":false},"axis":{"orient":"right","values":[0,1000,2000,3000,4000,5000,6000],"format":"d","labelExpr":"datum.value==2000||datum.value==4000||datum.value==6000?'':datum.label","title":null,"labelAngle":270,"labelAlign":"center","labelBaseline":"top","labelFontSize":18,"labelPadding":17}}}},
{"width":303,"height":302,"data":{"name":"dm"},"mark":"point","encoding":{
"x":{"field":"AmountSpent","type":"quantitative","scale":{"domain":[-209.16,6464.16],"nice":false,"zero":false},"axis":null},
"y":{"field":"Catalogs","type":"quantitative","scale":{"domain":[5.28,24.72],"nice":false,"zero":false},"axis":{"orient":"left","values":[10,15,20],"format":"d","title":null,"labelAngle":270,"labelAlign":"center","labelBaseline":"bottom","labelFontSize":18,"labelPadding":12}}}},
{"width":303,"height":302,"layer":[
{"data":{"name":"histCatalogs"},"mark":{"type":"rect","fill":"#00CD00","stroke":"black","strokeWidth":1.3},
"encoding":{"x":{"field":"binStart","type":"quantitative","scale":{"domain":[5.28,24.72],"nice":false,"zero":false},"axis":null},"x2":{"field":"binEnd"},
"y":{"field":"count","type":"quantitative","scale":{"domain":[-11.28,293.28],"nice":false,"zero":false},"axis":null},"y2":{"datum":0}}},
{"data":{"values":[{"label":"Catalogs"}]},"mark":{"type":"text","font":"Liberation Sans","fontSize":40,"align":"center","baseline":"alphabetic","color":"black"},
"encoding":{"text":{"field":"label"},"x":{"datum":14.8,"type":"quantitative"},"y":{"datum":226.5,"type":"quantitative"}}}
]},
{"width":303,"height":302,"data":{"name":"dm"},"mark":"point","encoding":{
"x":{"field":"Children","type":"quantitative","scale":{"domain":[-0.12,3.12],"nice":false,"zero":false},"axis":null},
"y":{"field":"Catalogs","type":"quantitative","scale":{"domain":[5.28,24.72],"nice":false,"zero":false},"axis":null}}},
{"width":303,"height":302,"data":{"name":"dm"},"mark":"point","encoding":{
"x":{"field":"Salary","type":"quantitative","scale":{"domain":[3752,175148],"nice":false,"zero":false},"axis":null},
"y":{"field":"Catalogs","type":"quantitative","scale":{"domain":[5.28,24.72],"nice":false,"zero":false},"axis":null}}},
{"width":303,"height":302,"data":{"name":"dm"},"mark":"point","encoding":{
"x":{"field":"AmountSpent","type":"quantitative","scale":{"domain":[-209.16,6464.16],"nice":false,"zero":false},"axis":null},
"y":{"field":"Children","type":"quantitative","scale":{"domain":[-0.12,3.12],"nice":false,"zero":false},"axis":null}}},
{"width":303,"height":302,"data":{"name":"dm"},"mark":"point","encoding":{
"x":{"field":"Catalogs","type":"quantitative","scale":{"domain":[5.28,24.72],"nice":false,"zero":false},"axis":null},
"y":{"field":"Children","type":"quantitative","scale":{"domain":[-0.12,3.12],"nice":false,"zero":false},"axis":null}}},
{"width":303,"height":302,"layer":[
{"data":{"name":"histChildren"},"mark":{"type":"rect","fill":"#00CD00","stroke":"black","strokeWidth":1.3},
"encoding":{"x":{"field":"binStart","type":"quantitative","scale":{"domain":[-0.12,3.12],"nice":false,"zero":false},"axis":null},"x2":{"field":"binEnd"},
"y":{"field":"count","type":"quantitative","scale":{"domain":[-18.48,480.48],"nice":false,"zero":false},"axis":null},"y2":{"datum":0}}},
{"data":{"values":[{"label":"Children"}]},"mark":{"type":"text","font":"Liberation Sans","fontSize":40,"align":"center","baseline":"alphabetic","color":"black"},
"encoding":{"text":{"field":"label"},"x":{"datum":1.5,"type":"quantitative"},"y":{"datum":368.2,"type":"quantitative"}}}
]},
{"width":303,"height":302,"data":{"name":"dm"},"mark":"point","encoding":{
"x":{"field":"Salary","type":"quantitative","scale":{"domain":[3752,175148],"nice":false,"zero":false},"axis":null},
"y":{"field":"Children","type":"quantitative","scale":{"domain":[-0.12,3.12],"nice":false,"zero":false},"axis":{"orient":"right","values":[0,0.5,1,1.5,2,2.5,3],"format":".1f","title":null,"labelAngle":270,"labelAlign":"center","labelBaseline":"top","labelFontSize":18,"labelPadding":17}}}},
{"width":303,"height":302,"data":{"name":"dm"},"mark":"point","encoding":{
"x":{"field":"AmountSpent","type":"quantitative","scale":{"domain":[-209.16,6464.16],"nice":false,"zero":false},"axis":{"orient":"bottom","values":[0,1000,2000,3000,4000,5000,6000],"format":"d","labelExpr":"datum.value==2000||datum.value==4000||datum.value==6000?'':datum.label","title":null,"labelAngle":0,"labelFontSize":16,"labelPadding":17}},
"y":{"field":"Salary","type":"quantitative","scale":{"domain":[3752,175148],"nice":false,"zero":false},"axis":{"orient":"left","values":[50000,100000,150000],"format":"d","title":null,"labelAngle":270,"labelAlign":"center","labelBaseline":"bottom","labelFontSize":18,"labelPadding":12}}}},
{"width":303,"height":302,"data":{"name":"dm"},"mark":"point","encoding":{
"x":{"field":"Catalogs","type":"quantitative","scale":{"domain":[5.28,24.72],"nice":false,"zero":false},"axis":null},
"y":{"field":"Salary","type":"quantitative","scale":{"domain":[3752,175148],"nice":false,"zero":false},"axis":null}}},
{"width":303,"height":302,"data":{"name":"dm"},"mark":"point","encoding":{
"x":{"field":"Children","type":"quantitative","scale":{"domain":[-0.12,3.12],"nice":false,"zero":false},"axis":{"orient":"bottom","values":[0,0.5,1,1.5,2,2.5,3],"format":".1f","title":null,"labelAngle":0,"labelFontSize":16,"labelPadding":17}},
"y":{"field":"Salary","type":"quantitative","scale":{"domain":[3752,175148],"nice":false,"zero":false},"axis":null}}},
{"width":303,"height":302,"layer":[
{"data":{"name":"histSalary"},"mark":{"type":"rect","fill":"#00CD00","stroke":"black","strokeWidth":1.3},
"encoding":{"x":{"field":"binStart","type":"quantitative","scale":{"domain":[3752,175148],"nice":false,"zero":false},"axis":null},"x2":{"field":"binEnd"},
"y":{"field":"count","type":"quantitative","scale":{"domain":[-5.92,153.92],"nice":false,"zero":false},"axis":null},"y2":{"datum":0}}},
{"data":{"values":[{"label":"Salary"}]},"mark":{"type":"text","font":"Liberation Sans","fontSize":40,"align":"center","baseline":"alphabetic","color":"black"},
"encoding":{"text":{"field":"label"},"x":{"datum":89450,"type":"quantitative"},"y":{"datum":121.0,"type":"quantitative"}}}
]}
]
}
